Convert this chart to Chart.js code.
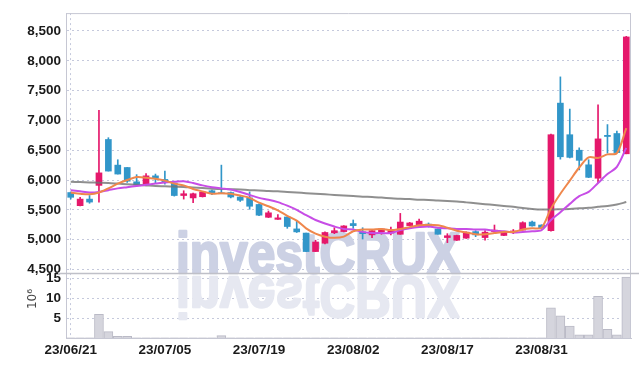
<!DOCTYPE html>
<html>
<head>
<meta charset="utf-8">
<script src="https://cdn.jsdelivr.net/npm/chart.js@4.4.1/dist/chart.umd.min.js"></script>
<style>
  html, body { margin: 0; padding: 0; background: #fff; }
  #wrap { width: 639px; height: 366px; }
</style>
</head>
<body>
<div id="wrap"><canvas id="chart" width="639" height="366"></canvas></div>
<script>
// trading days, 2023-06-21 .. 2023-09-13
const dates = [
  '23/06/21','23/06/22','23/06/23','23/06/26','23/06/27','23/06/28','23/06/29','23/06/30','23/07/03','23/07/04',
  '23/07/05','23/07/06','23/07/07','23/07/10','23/07/11','23/07/12','23/07/13','23/07/14','23/07/17','23/07/18',
  '23/07/19','23/07/20','23/07/21','23/07/24','23/07/25','23/07/26','23/07/27','23/07/28','23/07/31','23/08/01',
  '23/08/02','23/08/03','23/08/04','23/08/07','23/08/08','23/08/09','23/08/10','23/08/11','23/08/14','23/08/16',
  '23/08/17','23/08/18','23/08/21','23/08/22','23/08/23','23/08/24','23/08/25','23/08/28','23/08/29','23/08/30',
  '23/08/31','23/09/01','23/09/04','23/09/05','23/09/06','23/09/07','23/09/08','23/09/11','23/09/12','23/09/13'
];

const open = [
  5790,5570,5680,5910,6680,6250,6210,5970,5920,6070,
  6010,5950,5740,5700,5720,5820,5785,5790,5715,5700,
  5590,5375,5340,5380,5180,5110,4800,4940,5115,5135,
  5270,5130,5080,5130,5110,5090,5235,5235,5260,5180,
  5035,4990,5025,5135,5035,5135,5070,5125,5160,5295,
  5245,5150,7290,6760,6500,6255,6030,6750,6780,6440
];
const close = [
  5710,5680,5630,6120,6150,6100,5980,5920,6070,6030,
  5960,5740,5770,5770,5800,5770,5770,5715,5660,5560,
  5410,5450,5365,5220,5130,4800,4960,5120,5150,5230,
  5235,5100,5150,5180,5150,5295,5280,5310,5230,5090,
  5065,5070,5125,5080,5125,5160,5135,5145,5285,5230,
  5200,6760,6390,6380,6330,6045,6690,6730,6460,8400
];
const high = [
  5800,5710,5740,7170,6710,6340,6210,6090,6110,6100,
  6150,5950,5820,5780,5810,5830,6250,5800,5740,5800,
  5600,5480,5420,5385,5310,5110,4990,5130,5200,5235,
  5330,5200,5170,5185,5210,5440,5290,5345,5280,5180,
  5100,5075,5130,5150,5150,5245,5140,5170,5300,5310,
  5250,6770,7730,7190,6540,6340,7260,6930,6820,8410
];
const low = [
  5680,5565,5610,5630,6150,6100,5960,5910,5910,5940,
  5930,5730,5680,5620,5715,5755,5770,5700,5640,5510,
  5400,5370,5340,5190,5120,4800,4800,4930,5100,5130,
  5190,5010,5035,5090,5080,5090,5230,5230,5210,5090,
  4950,4985,5020,5050,4990,5105,5065,5100,5160,5225,
  5190,5140,6350,6370,6170,6040,5950,6450,6460,6440
];

// moving average lines
const ma5 = [
  5790,5770,5760,5790,5860,5940,6000,6050,6040,6020,
  5990,5940,5910,5850,5810,5770,5780,5770,5740,5700,
  5620,5560,5490,5400,5320,5190,5100,5050,5030,5050,
  5140,5170,5170,5180,5160,5180,5210,5240,5250,5240,
  5200,5150,5120,5090,5090,5110,5130,5130,5170,5190,
  5200,5520,5770,5990,6210,6380,6370,6430,6450,6870
];
const ma10 = [
  5830,5810,5790,5800,5830,5860,5880,5900,5920,5940,
  5960,5970,5980,5950,5910,5880,5860,5840,5800,5750,
  5700,5670,5630,5570,5500,5410,5330,5270,5220,5180,
  5170,5130,5110,5110,5110,5160,5190,5210,5220,5200,
  5190,5180,5180,5170,5170,5150,5140,5120,5130,5140,
  5160,5330,5460,5600,5730,5800,5950,6100,6220,6540
];
const ma60 = [
  5970,5965,5960,5955,5950,5940,5930,5920,5910,5900,
  5895,5890,5885,5875,5865,5855,5850,5845,5840,5830,
  5825,5815,5810,5800,5790,5780,5770,5760,5750,5740,
  5730,5720,5715,5705,5695,5685,5680,5670,5665,5655,
  5650,5640,5625,5610,5595,5580,5565,5550,5530,5515,
  5505,5505,5510,5515,5525,5535,5550,5565,5590,5630
];

// volume, millions of shares
const volume = [
  0.05,0.05,0.05,6.0,1.6,0.4,0.4,0.05,0.05,0.05,
  0.05,0.05,0.05,0.05,0.05,0.05,0.6,0.05,0.05,0.05,
  0.05,0.05,0.05,0.05,0.05,0.05,0.05,0.05,0.05,0.05,
  0.05,0.05,0.05,0.05,0.05,0.05,0.05,0.05,0.05,0.05,
  0.05,0.05,0.05,0.05,0.05,0.05,0.05,0.05,0.05,0.05,
  0.05,7.6,5.6,3.0,0.8,0.8,10.5,2.2,0.8,15.4
];

const priceTicks = [4500, 5000, 5500, 6000, 6500, 7000, 7500, 8000, 8500];
const volumeTicks = [5, 10, 15];

const UP = '#e5186b';
const DOWN = '#3196c9';
const GRID = '#c5c9dc';
const AXIS = '#c6c7d3';
const FONT = '"Liberation Sans", Arial, sans-serif';

const candleColor = close.map((c, i) => c >= open[i] ? UP : DOWN);

const extras = {
  id: 'extras',
  beforeDatasetsDraw(chart) {
    const ctx = chart.ctx;
    ctx.save();
    ctx.font = 'bold 58px ' + FONT;
    ctx.textBaseline = 'alphabetic';
    ctx.lineJoin = 'round';
    // squeeze the logo to the narrow width it has in the original
    const w = ctx.measureText('investCRUX').width;
    const sx = 284 / w;
    ctx.translate(176, 273);
    ctx.scale(sx, 1);
    ctx.fillStyle = ctx.strokeStyle = '#ccd1e4';
    ctx.lineWidth = 2.5;
    ctx.strokeText('investCRUX', 0, 0);
    ctx.fillText('investCRUX', 0, 0);
    // reflection
    ctx.translate(0, 4);
    ctx.scale(1, -1);
    ctx.fillStyle = ctx.strokeStyle = '#e6e8f1';
    ctx.strokeText('investCRUX', 0, 0);
    ctx.fillText('investCRUX', 0, 0);
    ctx.restore();
  },
  afterDraw(chart) {
    const ctx = chart.ctx;
    const a = chart.chartArea;
    const sep = Math.round(chart.scales.y.bottom) + 0.5;
    ctx.save();
    ctx.strokeStyle = AXIS;
    ctx.lineWidth = 1;
    ctx.beginPath();
    ctx.moveTo(a.left, a.top + 0.5);
    ctx.lineTo(a.right, a.top + 0.5);
    ctx.moveTo(a.right - 0.5, a.top);
    ctx.lineTo(a.right - 0.5, a.bottom);
    ctx.stroke();
    ctx.strokeStyle = '#bfc0c8';
    ctx.lineWidth = 1.5;
    ctx.beginPath();
    ctx.moveTo(58, sep);
    ctx.lineTo(chart.width, sep);
    ctx.stroke();

    ctx.translate(33, 299);
    ctx.rotate(-Math.PI / 2);
    ctx.font = '12px "DejaVu Sans", sans-serif';
    ctx.fillStyle = '#444';
    ctx.textAlign = 'center';
    ctx.textBaseline = 'middle';
    ctx.fillText('10\u2076', 0, 0);
    ctx.restore();
  }
};

const tickFont = { family: FONT, size: 13.5, weight: 'bold' };

new Chart(document.getElementById('chart'), {
  data: {
    labels: dates,
    datasets: [
      { type: 'line', label: 'MA5', data: ma5, borderColor: '#ef874c', borderWidth: 2,
        pointRadius: 0, tension: 0.3, yAxisID: 'y', order: 0 },
      { type: 'line', label: 'MA10', data: ma10, borderColor: '#c74de6', borderWidth: 2,
        pointRadius: 0, tension: 0.3, yAxisID: 'y', order: 0 },
      { type: 'line', label: 'MA60', data: ma60, borderColor: 'rgba(115,115,115,0.8)', borderWidth: 2,
        pointRadius: 0, tension: 0.3, yAxisID: 'y', order: 0 },
      { type: 'bar', label: 'wick', data: low.map((l, i) => [l, high[i]]),
        backgroundColor: candleColor, barThickness: 1, grouped: false, yAxisID: 'y', order: 2 },
      { type: 'bar', label: 'body', data: open.map((o, i) => [o, close[i]]),
        backgroundColor: candleColor, barThickness: 6, minBarLength: 1, grouped: false, yAxisID: 'y', order: 1 },
      { type: 'bar', label: 'volume', data: volume,
        backgroundColor: '#d5d5dd', borderColor: '#babac6', borderWidth: 1,
        barThickness: 9, grouped: false, yAxisID: 'vol', order: 3 }
    ]
  },
  options: {
    responsive: false,
    animation: false,
    devicePixelRatio: 1,
    layout: { padding: { left: 10, right: 8, top: 9, bottom: 6 } },
    plugins: { legend: { display: false }, tooltip: { enabled: false } },
    scales: {
      x: {
        type: 'category',
        offset: true,
        grid: {
          offset: false,
          drawTicks: false,
          color: c => c.index % 10 === 0 ? GRID : 'transparent',
          lineWidth: c => c.index % 10 === 0 ? 1 : 0
        },
        border: { color: AXIS, dash: [2, 3] },
        ticks: {
          autoSkip: false, maxRotation: 0, padding: 4, color: '#1a1a1a', font: tickFont,
          callback: (v, i) => i % 10 === 0 ? dates[i] : null
        },
        afterFit: s => { s.height = 22; }
      },
      vol: {
        type: 'linear', position: 'left', stack: 'panel', stackWeight: 1,
        min: 0, max: 16.4,
        afterBuildTicks: s => { s.ticks = volumeTicks.map(v => ({ value: v })); },
        grid: { color: GRID, drawTicks: false },
        border: { color: AXIS, dash: [2, 3] },
        ticks: { autoSkip: false, padding: 5, color: '#1a1a1a', font: tickFont },
        afterFit: s => { s.width = 56; }
      },
      y: {
        type: 'linear', position: 'left', stack: 'panel', stackWeight: 4,
        min: 4440, max: 8800,
        afterBuildTicks: s => { s.ticks = priceTicks.map(v => ({ value: v })); },
        grid: { color: GRID, drawTicks: false },
        border: { color: AXIS, dash: [2, 3] },
        ticks: { autoSkip: false, padding: 5, color: '#1a1a1a', font: tickFont,
          callback: v => v.toLocaleString('en-US') },
        afterFit: s => { s.width = 56; }
      }
    }
  },
  plugins: [extras]
});
</script>
</body>
</html>
